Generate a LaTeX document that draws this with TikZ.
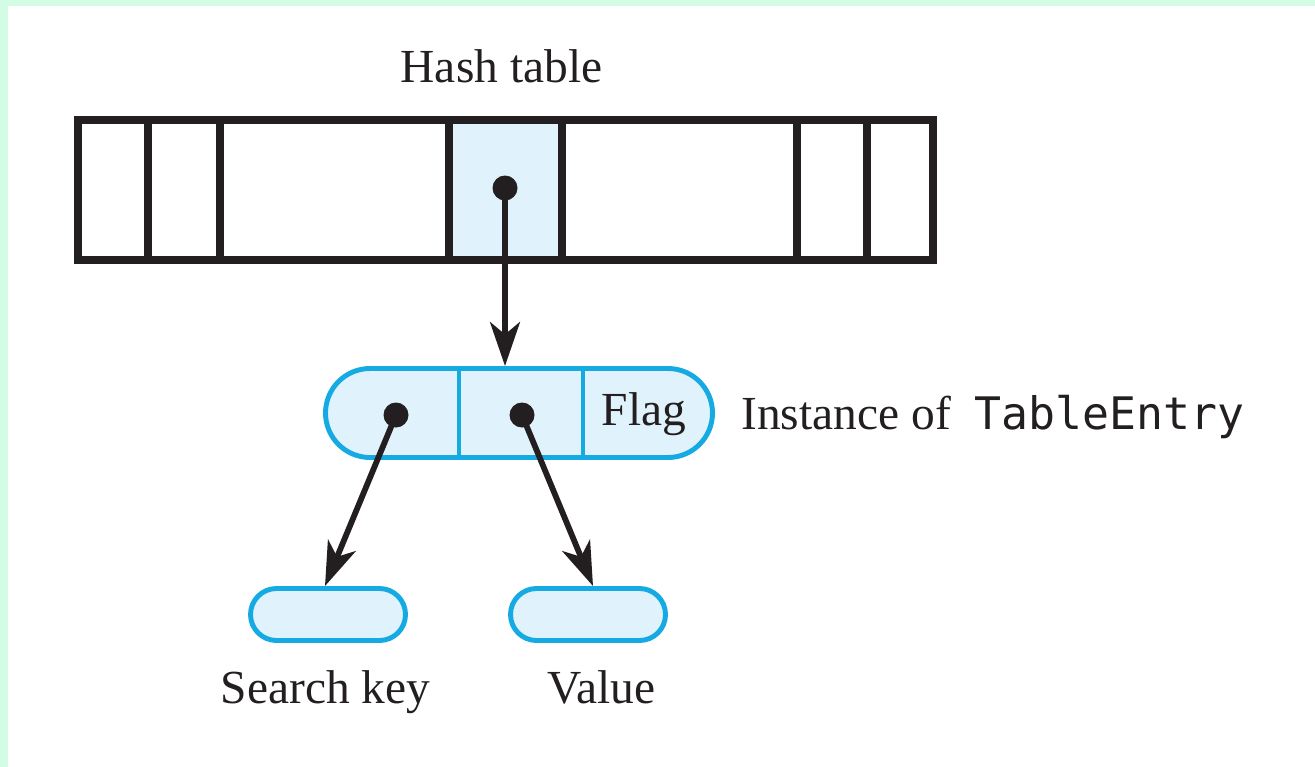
\documentclass[tikz,border=0pt]{standalone}
\usepackage{fontspec}
\setmainfont{Liberation Serif}
\newfontfamily\codefont{DejaVu Sans Mono}
\usetikzlibrary{arrows.meta}

\newdimen\upx \upx=0.02cm

\definecolor{edgegreen}{RGB}{210,252,228}
\definecolor{cellblue}{RGB}{224,242,252}
\definecolor{rimblue}{RGB}{22,170,226}
\definecolor{ink}{RGB}{35,31,32}

\tikzset{
  tableline/.style={line width=5.1pt, draw=ink},
  capsule/.style={draw=rimblue, fill=cellblue, line width=2.8pt, inner sep=0pt,
                  rectangle, rounded corners=#1},
  divider/.style={draw=rimblue, line width=2.8pt},
  pointer/.style={circle, fill=ink, inner sep=0pt, minimum size=25\upx},
  link/.style={draw=ink, line width=3.3pt,
               -{Stealth[length=25pt, width=17pt, inset=7pt]}},
  caption/.style={inner sep=0pt, anchor=base, font=\fontsize{27}{31}\selectfont, text=ink},
}

\begin{document}
\begin{tikzpicture}[x=0.02cm, y=-0.02cm]
  % page frame with the pale green strips along the top and left edges
  \useasboundingbox (0,0) rectangle (1315,767);
  \fill[edgegreen] (0,0) rectangle (1315,6);
  \fill[edgegreen] (0,0) rectangle (8,767);

  % hash table: a row of cells, one of them shaded
  \fill[cellblue] (449,120) rectangle (562,260);
  \node[draw=ink, line width=5.1pt, inner sep=0pt, minimum width=855\upx,
        minimum height=140\upx] (table) at (505.5,190) {};
  \foreach \cx in {148,220,449,562,797,867}
    \draw[tableline] (\cx,120) -- (\cx,260);
  \node[caption] (tabletitle) at (501.5,83) {Hash table};

  % the TableEntry instance
  \node[capsule=0.89cm, minimum width=387\upx, minimum height=89\upx] (entry) at (519,413) {};
  \draw[divider] (459,368.5) -- (459,457.5);
  \draw[divider] (583,368.5) -- (583,457.5);
  \node[caption] (flag) at (644,425) {Flag};
  \node[caption, anchor=base west] (entrylabel) at (741,429)
    {Instance of\hspace{0.5em}{\codefont\fontsize{25.5}{30}\selectfont TableEntry}};

  % key and value objects
  \node[capsule=0.52cm, minimum width=155\upx, minimum height=52\upx] (key) at (328,614.5) {};
  \node[capsule=0.52cm, minimum width=155\upx, minimum height=52\upx] (value) at (588,614.5) {};
  \node[caption] (keylabel) at (325.5,703) {Search key};
  \node[caption] (valuelabel) at (601.5,703) {Value};

  % references
  \node[pointer] (slot) at (505,188) {};
  \node[pointer] (keyref) at (396,415) {};
  \node[pointer] (valueref) at (522,415) {};

  \draw[link] (slot.center) -- (slot |- entry.north);
  \draw[link] (keyref.center) -- ([xshift=-3\upx]key.north);
  \draw[link] (valueref.center) -- ([xshift=5\upx]value.north);
\end{tikzpicture}
\end{document}
